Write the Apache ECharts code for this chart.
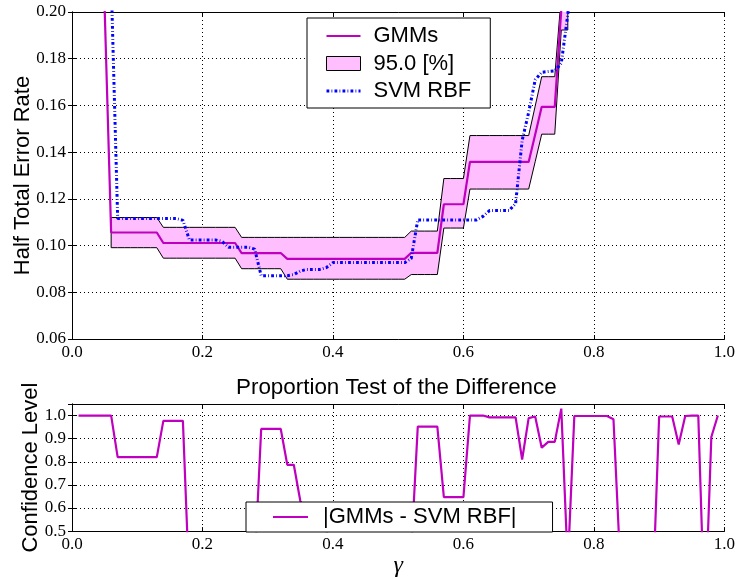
<!DOCTYPE html>
<html><head><meta charset="utf-8">
<script src="https://cdn.jsdelivr.net/npm/echarts@6/dist/echarts.min.js"></script>
<style>html,body{margin:0;padding:0;background:#fff}#c{width:738px;height:579px}</style>
</head><body><div id="c"></div>
<script>
// ---------- top panel: half total error rate ----------
const topGamma = [0.04,0.05,0.06,0.07,0.08,0.09,0.10,0.11,0.12,0.13,0.14,0.15,0.16,0.17,0.18,0.19,0.20,0.21,0.22,0.23,0.24,0.25,0.26,0.27,0.28,0.29,0.30,0.31,0.32,0.33,0.34,0.35,0.36,0.37,0.38,0.39,0.40,0.41,0.42,0.43,0.44,0.45,0.46,0.47,0.48,0.49,0.50,0.51,0.52,0.53,0.54,0.55,0.56,0.57,0.58,0.59,0.60,0.61,0.62,0.63,0.64,0.65,0.66,0.67,0.68,0.69,0.70,0.71,0.72,0.73,0.74,0.75,0.76,0.77];
const gmmHter = [0.26,0.202,0.1056,
  0.1056,0.1056,0.1056,0.1056,0.1056,0.1056,0.1056,
  0.1011,0.1011,0.1011,0.1011,0.1011,0.1011,0.1011,0.1011,0.1011,0.1011,0.1011,0.1011,
  0.0968,0.0968,0.0968,0.0968,0.0968,0.0968,0.0968,
  0.0943,0.0943,0.0943,0.0943,0.0943,0.0943,0.0943,0.0943,0.0943,0.0943,0.0943,0.0943,0.0943,0.0943,0.0943,0.0943,0.0943,0.0943,0.0943,
  0.0969,0.0969,0.0969,0.0969,0.0969,
  0.1177,0.1177,0.1177,0.1177,
  0.1358,0.1358,0.1358,0.1358,0.1358,0.1358,0.1358,0.1358,0.1358,0.1358,
  0.1476,
  0.1594,0.1594,0.1594,
  0.201,0.23,0.26];
const svmHter = [0.30,0.26,0.214,
  0.1116,0.1116,0.1116,0.1116,0.1116,0.1116,0.1116,0.1116,0.1116,0.1116,
  0.1108,
  0.1024,0.1024,0.1024,0.1024,0.1024,
  0.1018,
  0.0993,0.0993,0.0993,0.0993,
  0.0985,
  0.0871,0.0871,0.0871,0.0871,0.0871,
  0.0876,0.0891,
  0.0898,0.0898,0.0898,
  0.0906,
  0.0927,0.0927,0.0927,0.0927,0.0927,0.0927,0.0927,0.0927,0.0927,0.0927,0.0927,0.0927,
  0.0945,
  0.1110,0.1110,0.1110,0.1110,0.1110,0.1110,0.1110,0.1110,0.1110,0.1110,
  0.1125,
  0.1150,0.1150,0.1150,0.1150,
  0.1180,0.1450,0.1570,0.1710,0.1742,0.1745,0.1748,0.1780,0.1990,0.2300];

const bandGamma = [0.06,0.07,0.08,0.09,0.10,0.11,0.12,0.13,0.14,0.15,0.16,0.17,0.18,0.19,0.20,0.21,0.22,0.23,0.24,0.25,0.26,0.27,0.28,0.29,0.30,0.31,0.32,0.33,0.34,0.35,0.36,0.37,0.38,0.39,0.40,0.41,0.42,0.43,0.44,0.45,0.46,0.47,0.48,0.49,0.50,0.51,0.52,0.53,0.54,0.55,0.56,0.57,0.58,0.59,0.60,0.61,0.62,0.63,0.64,0.65,0.66,0.67,0.68,0.69,0.70,0.71,0.72,0.73,0.74,0.75,0.76];
const bandUpper = [0.1120,0.1120,0.1120,0.1120,0.1120,0.1120,0.1120,0.1120,
  0.1078,0.1078,0.1078,0.1078,0.1078,0.1078,0.1078,0.1078,0.1078,0.1078,0.1078,0.1078,
  0.1035,0.1035,0.1035,0.1035,0.1035,0.1035,0.1035,0.1035,0.1035,0.1035,0.1035,0.1035,0.1035,0.1035,0.1035,0.1035,0.1035,0.1035,0.1035,0.1035,0.1035,0.1035,0.1035,0.1035,0.1035,0.1035,
  0.1062,0.1062,0.1062,0.1062,0.1062,
  0.1287,0.1287,0.1287,0.1287,
  0.1471,0.1471,0.1471,0.1471,0.1471,0.1471,0.1471,0.1471,0.1471,0.1471,
  0.1597,
  0.1723,0.1723,0.1723,
  0.207,0.215];
const bandLower = [0.0991,0.0991,0.0991,0.0991,0.0991,0.0991,0.0991,0.0991,
  0.0946,0.0946,0.0946,0.0946,0.0946,0.0946,0.0946,0.0946,0.0946,0.0946,0.0946,0.0946,
  0.0901,0.0901,0.0901,0.0901,0.0901,0.0901,0.0901,
  0.0856,0.0856,0.0856,0.0856,0.0856,0.0856,0.0856,0.0856,0.0856,0.0856,0.0856,0.0856,0.0856,0.0856,0.0856,0.0856,0.0856,0.0856,0.0856,
  0.0876,0.0876,0.0876,0.0876,0.0876,
  0.1075,0.1075,0.1075,0.1075,
  0.1242,0.1242,0.1242,0.1242,0.1242,0.1242,0.1242,0.1242,0.1242,0.1242,
  0.1359,
  0.1477,0.1477,0.1477,
  0.1923,0.1923];

// ---------- bottom panel: proportion test ----------
const confGamma = [0.01,0.02,0.03,0.04,0.05,0.06,0.07,0.08,0.09,0.10,0.11,0.12,0.13,0.14,0.15,0.16,0.17,0.18,0.19,0.20,0.21,0.22,0.23,0.24,0.25,0.26,0.27,0.28,0.29,0.30,0.31,0.32,0.33,0.34,0.35,0.36,0.37,0.38,0.39,0.40,0.41,0.42,0.43,0.44,0.45,0.46,0.47,0.48,0.49,0.50,0.51,0.52,0.53,0.54,0.55,0.56,0.57,0.58,0.59,0.60,0.61,0.62,0.63,0.64,0.65,0.66,0.67,0.68,0.69,0.70,0.71,0.72,0.73,0.74,0.75,0.76,0.77,0.78,0.79,0.80,0.81,0.82,0.83,0.84,0.85,0.86,0.87,0.88,0.89,0.90,0.91,0.92,0.93,0.94,0.95,0.96,0.97,0.98,0.99];
const confLevel = [1.0,1.0,1.0,1.0,1.0,1.0,
  0.82,0.82,0.82,0.82,0.82,0.82,0.82,
  0.977,0.977,0.977,0.977,
  0.25,
  0.2,0.2,0.2,0.2,0.1,0.2,0.2,0.3,0.3,
  0.35,
  0.942,0.942,0.942,0.942,
  0.787,0.787,
  0.63,0.59,0.56,0.54,0.51,
  0.3,0.3,0.3,0.3,0.3,0.3,0.3,0.3,0.3,0.3,0.3,0.3,
  0.41,
  0.952,0.952,0.952,0.952,
  0.647,0.647,0.647,0.647,
  1.0,1.0,1.0,
  0.992,0.992,0.992,0.992,0.992,
  0.81,0.989,0.996,0.861,0.886,0.886,1.03,0.35,
  0.998,0.998,0.998,0.998,0.998,0.998,
  0.984,0.38,
  0.3,0.3,0.3,0.3,
  0.2,
  0.996,0.996,0.996,
  0.875,0.998,1.0,1.0,0.1,0.907,1.0];

const xTicks = {min: 0, max: 1, interval: 0.2};
const topY = {min: 0.06, max: 0.20, interval: 0.02};
const botY = {min: 0.5, max: 1.05, interval: 0.1};

const SERIF = 'Liberation Serif';
const SANS = 'Liberation Sans';
const MAG = '#bf00bf';
const dotted = {show: true, lineStyle: {color: '#000', width: 1, type: [1, 3]}};
const axLine = {show: true, lineStyle: {color: '#000', width: 1}};
const tick = {show: true, inside: true, length: 4, lineStyle: {color: '#000', width: 1}};
const SVM_DASH = [2.8, 2.2, 0.8, 2.2];

const ICON_LINE_34 = 'path://M0,0H34V2.2H0Z';
const ICON_LINE_35 = 'path://M0,0H35V2.2H0Z';
const ICON_DASHDOT = 'path://M0,0H2.8V3H0Z M5,0H5.8V3H5Z M8,0H10.8V3H8Z M13,0H13.8V3H13Z M16,0H18.8V3H16Z M21,0H21.8V3H21Z M24,0H26.8V3H24Z M29,0H29.8V3H29Z M32,0H34V3H32Z';

function xAx(grid, pos, withLabels, name) {
  return Object.assign({
    type: 'value', gridIndex: grid, position: pos,
    axisLine: axLine, axisTick: tick,
    axisLabel: {show: withLabels, formatter: v => v.toFixed(1), fontFamily: SERIF, fontSize: 17, color: '#000', margin: 5},
    splitLine: withLabels ? dotted : {show: false},
    name: name || '', nameLocation: 'middle', nameGap: 19,
    nameTextStyle: {fontFamily: SERIF, fontStyle: 'italic', fontSize: 24, color: '#000'}
  }, xTicks);
}
function yAx(grid, pos, withLabels, range, digits, name, gap) {
  return Object.assign({
    type: 'value', gridIndex: grid, position: pos,
    axisLine: axLine, axisTick: tick,
    axisLabel: {show: withLabels, fontFamily: SERIF, fontSize: 17, color: '#000', margin: 6,
      formatter: v => {
        const k = v / range.interval;
        return Math.abs(k - Math.round(k)) > 1e-6 ? '' : v.toFixed(digits);
      }},
    splitLine: withLabels ? dotted : {show: false},
    name: name || '', nameLocation: 'middle', nameGap: gap || 29, nameMoveOverlap: false,
    nameTextStyle: {fontFamily: SANS, fontSize: 22, color: '#000'}
  }, range);
}

const chart = echarts.init(document.getElementById('c'), null, {renderer: 'canvas'});
chart.setOption({
  animation: false,
  backgroundColor: '#fff',
  title: {
    text: 'Proportion Test of the Difference', left: 236, top: 377, padding: 0,
    textStyle: {fontFamily: SANS, fontSize: 22.4, fontWeight: 'normal', color: '#000'}
  },
  grid: [
    {left: 72, right: 13, top: 12, bottom: 240},
    {left: 72, right: 13, top: 404, bottom: 44}
  ],
  xAxis: [
    xAx(0, 'bottom', true),
    xAx(0, 'top', false),
    xAx(1, 'bottom', true, 'γ'),
    xAx(1, 'top', false)
  ],
  yAxis: [
    yAx(0, 'left', true, topY, 2, 'Half Total Error Rate', 38),
    yAx(0, 'right', false, topY, 2),
    yAx(1, 'left', true, botY, 1, 'Confidence Level', 30),
    yAx(1, 'right', false, botY, 1)
  ],
  legend: [
    {
      orient: 'vertical', left: 307, top: 18, padding: [7, 19, 6, 19], itemGap: 5.5,
      itemWidth: 34, itemHeight: 14,
      backgroundColor: '#fff', borderColor: '#000', borderWidth: 1, borderRadius: 0,
      textStyle: {fontFamily: SANS, fontSize: 22, color: '#000', padding: [0, 0, 0, 8]},
      data: [
        {name: 'GMMs', icon: ICON_LINE_34},
        {name: '95.0 [%]', icon: 'rect', itemStyle: {color: '#ffbfff', borderColor: '#000', borderWidth: 1}},
        {name: 'SVM RBF', icon: ICON_DASHDOT}
      ]
    },
    {
      orient: 'horizontal', left: 246, top: 502, padding: [4, 36, 4, 27],
      itemWidth: 35, itemHeight: 14,
      backgroundColor: '#fff', borderColor: '#000', borderWidth: 1, borderRadius: 0,
      textStyle: {fontFamily: SANS, fontSize: 22, color: '#000', padding: [0, 0, 0, 10]},
      data: [{name: '|GMMs - SVM RBF|', icon: ICON_LINE_35}]
    }
  ],
  series: [
    {
      name: '95.0 [%]', type: 'custom', xAxisIndex: 0, yAxisIndex: 0, clip: true,
      data: bandGamma.map((g, i) => [g, bandLower[i], bandUpper[i]]),
      encode: {x: 0, y: [1, 2]},
      itemStyle: {color: '#ffbfff'},
      renderItem: function (params, api) {
        if (params.dataIndex !== 0) return null;
        const pts = [];
        for (let i = 0; i < bandGamma.length; i++) pts.push(api.coord([bandGamma[i], bandUpper[i]]));
        for (let i = bandGamma.length - 1; i >= 0; i--) pts.push(api.coord([bandGamma[i], bandLower[i]]));
        const cs = params.coordSys;
        return {
          type: 'polygon', shape: {points: pts},
          style: {fill: '#ffbfff', stroke: '#000', lineWidth: 1},
          clipPath: {type: 'rect', shape: {x: cs.x, y: cs.y, width: cs.width, height: cs.height}}
        };
      },
      z: 1
    },
    {
      name: 'GMMs', type: 'line', xAxisIndex: 0, yAxisIndex: 0, symbol: 'none', clip: true,
      data: topGamma.map((g, i) => [g, gmmHter[i]]),
      lineStyle: {color: MAG, width: 2.2}, itemStyle: {color: MAG}, z: 3
    },
    {
      name: 'SVM RBF', type: 'line', xAxisIndex: 0, yAxisIndex: 0, symbol: 'none', clip: true,
      data: topGamma.map((g, i) => [g, svmHter[i]]),
      lineStyle: {color: '#0000ff', width: 3, type: SVM_DASH, cap: 'butt'},
      itemStyle: {color: '#0000ff'}, z: 4
    },
    {
      name: '|GMMs - SVM RBF|', type: 'line', xAxisIndex: 2, yAxisIndex: 2, symbol: 'none', clip: true,
      data: confGamma.map((g, i) => [g, confLevel[i]]),
      lineStyle: {color: MAG, width: 2.2}, itemStyle: {color: MAG}, z: 3
    }
  ]
});
</script></body></html>
